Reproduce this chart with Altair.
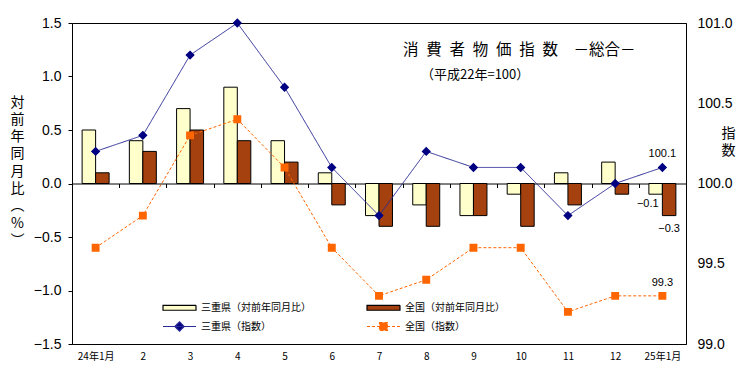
import altair as alt
import pandas as pd

# ---- data ----
months = ["24年1月", "2", "3", "4", "5", "6", "7", "8", "9", "10", "11", "12", "25年1月"]
mie_yoy = [0.5, 0.4, 0.7, 0.9, 0.4, 0.1, -0.3, -0.2, -0.3, -0.1, 0.1, 0.2, -0.1]
nat_yoy = [0.1, 0.3, 0.5, 0.4, 0.2, -0.2, -0.4, -0.4, -0.3, -0.4, -0.2, -0.1, -0.3]
mie_idx = [100.2, 100.3, 100.8, 101.0, 100.6, 100.1, 99.8, 100.2, 100.1, 100.1, 99.8, 100.0, 100.1]
nat_idx = [99.6, 99.8, 100.3, 100.4, 100.1, 99.6, 99.3, 99.4, 99.6, 99.6, 99.2, 99.3, 99.3]

series = ["三重県（対前年同月比）", "全国（対前年同月比）", "三重県（指数）", "全国（指数）"]
left_ticks = [-1.5, -1.0, -0.5, 0.0, 0.5, 1.0, 1.5]
right_ticks = [99.0, 99.5, 100.0, 100.5, 101.0]
title_text = "消\u2002費\u2002者\u2002物\u2002価\u2002指\u2002数\u3000－総合－"
subtitle_text = ["（平成22年=100）"]

yoy = pd.DataFrame(
    [{"month": m, "series": series[0], "v": v} for m, v in zip(months, mie_yoy)]
    + [{"month": m, "series": series[1], "v": v} for m, v in zip(months, nat_yoy)]
)
idx = pd.DataFrame(
    [{"month": m, "series": series[2], "v": v} for m, v in zip(months, mie_idx)]
    + [{"month": m, "series": series[3], "v": v} for m, v in zip(months, nat_idx)]
)
sub_df = pd.DataFrame({"t": subtitle_text})

JP = "Noto Sans CJK JP"
NUM = "Liberation Sans"

W, H = 614, 321

# ---- shared scales / legend ----
RECT = "M-3,-0.45H3V0.45H-3Z"
DIAM = "M-3,0H3M0,-0.85L0.85,0L0,0.85L-0.85,0Z"
SQR = "M-3,0H3M-0.72,-0.72H0.72V0.72H-0.72Z"

color_scale = alt.Scale(domain=series, range=["#FFFFCC", "#A5400F", "#000080", "#FF6600"])
stroke_scale = alt.Scale(domain=series, range=["#000000", "#000000", "#2A2A96", "#FF6600"])
shape_scale = alt.Scale(domain=series, range=[RECT, RECT, DIAM, SQR])
dash_scale = alt.Scale(domain=series, range=[[1, 0], [1, 0], [1, 0], [3, 2]])

legend = alt.Legend(
    title=None, orient="none", legendX=101, legendY=278,
    direction="horizontal", columns=2, columnPadding=53, rowPadding=6,
    symbolSize=121, symbolStrokeWidth=1.2, labelFont=JP, labelFontSize=10,
    labelColor="#000000", labelOffset=15,
)

x_axis = alt.Axis(
    title=None, offset=-H / 2, domainColor="#000000", tickColor="#000000",
    tickBand="extent", tickSize=4, labelPadding=164, labelFont=JP,
    labelFontSize=10, labelColor="#000000", labelAngle=0, grid=False,
)
x_enc = alt.X("month:N", sort=months, axis=x_axis,
              scale=alt.Scale(paddingInner=0, paddingOuter=0))

left_axis = alt.Axis(
    values=left_ticks, format=".1f", grid=False, domainColor="#000000",
    tickColor="#000000", tickSize=4, labelPadding=7, labelFont=NUM,
    labelFontSize=14, labelColor="#000000",
    title=["対", "前", "年", "同", "月", "比", "︵", "%", "︶"],
    titleAngle=0, titleX=-55, titleY=72, titleAlign="center",
    titleBaseline="top", titleLineHeight=17.3, titleFont=JP,
    titleFontSize=14, titleFontWeight="normal", titleColor="#000000",
)
right_axis = alt.Axis(
    orient="right", values=right_ticks, format=".1f", grid=False,
    domainColor="#000000", ticks=False, labelPadding=11, labelFont=NUM,
    labelFontSize=14, labelColor="#000000",
    title=["指", "数"], titleAngle=0, titleX=42, titleY=103,
    titleAlign="center", titleBaseline="top", titleLineHeight=17.3,
    titleFont=JP, titleFontSize=14, titleFontWeight="normal",
    titleColor="#000000",
)

y_left = alt.Y("v:Q", scale=alt.Scale(domain=[-1.5, 1.5], nice=False, zero=False), axis=left_axis)
y_right = alt.Y("v:Q", scale=alt.Scale(domain=[99.0, 101.0], nice=False, zero=False), axis=right_axis)

xoff = alt.XOffset("series:N", sort=series[:2],
                   scale=alt.Scale(paddingInner=0, paddingOuter=0.75))

bars = alt.Chart(yoy).mark_bar(strokeWidth=1).encode(
    x=x_enc, xOffset=xoff, y=y_left,
    color=alt.Color("series:N", scale=color_scale, legend=legend),
    stroke=alt.Stroke("series:N", scale=stroke_scale, legend=legend),
)

last = months[-1]
bar_lab_mie = alt.Chart(yoy).transform_filter(
    (alt.datum.month == last) & (alt.datum.series == series[0])
).mark_text(font=NUM, fontSize=11, baseline="top", align="right", dy=4, dx=3, color="#000000").encode(
    x=x_enc, xOffset=xoff, y=y_left, text=alt.Text("v:Q", format=".1f"),
)
bar_lab_nat = alt.Chart(yoy).transform_filter(
    (alt.datum.month == last) & (alt.datum.series == series[1])
).mark_text(font=NUM, fontSize=11, baseline="top", align="center", dy=7, color="#000000").encode(
    x=x_enc, xOffset=xoff, y=y_left, text=alt.Text("v:Q", format=".1f"),
)

subtitle = alt.Chart(sub_df).mark_text(
    font=JP, fontSize=13, align="left", baseline="middle", color="#000000"
).encode(x=alt.value(349), y=alt.value(52), text="t:N")

lines = alt.Chart(idx).mark_line(strokeWidth=1).encode(
    x=x_enc, y=y_right,
    stroke=alt.Stroke("series:N", scale=stroke_scale, legend=legend),
    strokeDash=alt.StrokeDash("series:N", scale=dash_scale, legend=legend),
)
points = alt.Chart(idx).mark_point(filled=True, size=121, opacity=1).encode(
    x=x_enc, y=y_right,
    color=alt.Color("series:N", scale=color_scale, legend=legend),
    shape=alt.Shape("series:N", scale=shape_scale, legend=legend),
)
idx_lab = alt.Chart(idx).transform_filter(
    alt.datum.month == last
).mark_text(font=NUM, fontSize=11, baseline="bottom", align="center", dy=-8, color="#000000").encode(
    x=x_enc, y=y_right, text=alt.Text("v:Q", format=".1f"),
)

left_layer = alt.layer(bars, bar_lab_mie, bar_lab_nat, subtitle)
right_layer = alt.layer(lines, points, idx_lab)

chart = alt.layer(left_layer, right_layer).resolve_scale(y="independent").properties(
    width=W, height=H,
    autosize=alt.AutoSizeParams(type="none"),
    padding={"left": 64, "top": 15, "right": 50, "bottom": 26},
    title=alt.TitleParams(
        text=title_text,
        anchor="start", frame="group", orient="top", offset=0,
        dx=331, dy=42, font=JP, fontSize=15.5, fontWeight="normal",
        color="#000000",
    ),
).configure_view(stroke="#000000", strokeWidth=1)

chart.save("out.html", embed_options={"renderer": "svg", "actions": False})
